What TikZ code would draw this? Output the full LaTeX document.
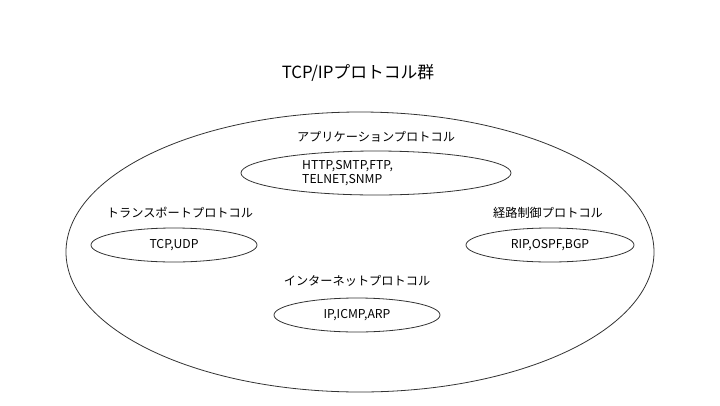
\documentclass[tikz,border=0pt]{standalone}
\usepackage{fontspec}
\setmainfont{Noto Sans CJK JP}
\begin{document}
\begin{tikzpicture}[x=1pt,y=-1pt,
  ell/.style={draw=black!80,line width=0.8pt},
  lab/.style={font=\fontsize{12.2}{13.5}\selectfont,inner sep=0pt}]
\useasboundingbox (0,0) rectangle (720,405);
\fill[white] (0,0) rectangle (720,405);
\draw[ell] (360,252) ellipse [x radius=294,y radius=140];
\node[inner sep=0pt,font=\fontsize{16.8}{19}\selectfont] (title) at (358,73) {TCP/IPプロトコル群};
\node[lab] (al) at (376,137) {アプリケーションプロトコル};
\draw[ell] (376,173) ellipse [x radius=135,y radius=22];
\node[lab,align=left,anchor=west] (at) at (302,173) {HTTP,SMTP,FTP,\\TELNET,SNMP};
\node[lab] (tl) at (180,213) {トランスポートプロトコル};
\draw[ell] (174,245) ellipse [x radius=83,y radius=17];
\node[lab] (tt) at (174,245) {TCP,UDP};
\node[lab] (rl) at (548,213) {経路制御プロトコル};
\draw[ell] (550,245) ellipse [x radius=84,y radius=17];
\node[lab] (rt) at (550,245) {RIP,OSPF,BGP};
\node[lab] (il) at (357,281) {インターネットプロトコル};
\draw[ell] (357,315) ellipse [x radius=83,y radius=17];
\node[lab] (it) at (357,315) {IP,ICMP,ARP};
\end{tikzpicture}
\end{document}
